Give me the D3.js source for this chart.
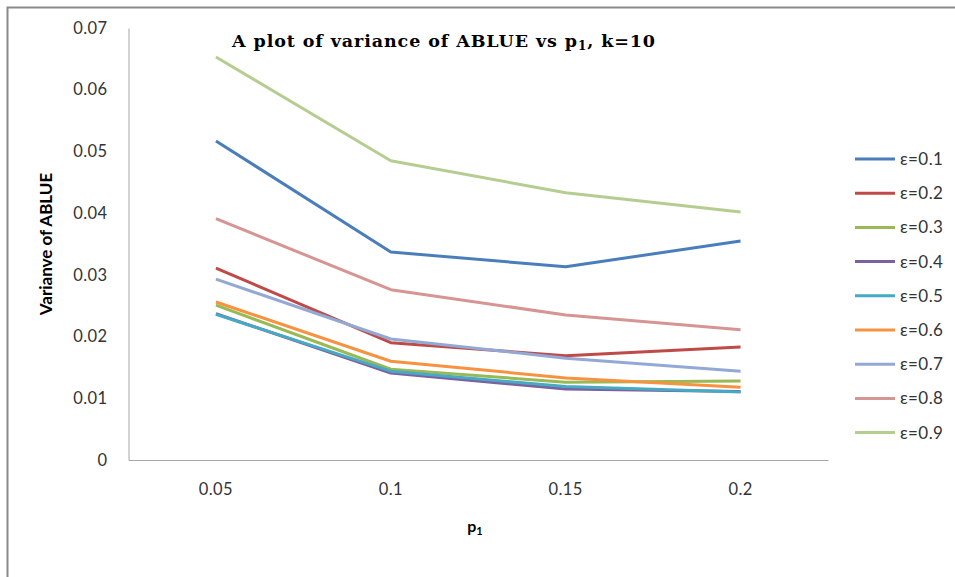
<!DOCTYPE html>
<html>
<head>
<meta charset="utf-8">
<script src="https://cdn.jsdelivr.net/npm/d3@7"></script>
<style>
  html, body { margin: 0; padding: 0; background: #fff; }
  svg { display: block; }
</style>
</head>
<body>
<svg id="chart" width="955" height="577"></svg>
<script>
// p1 categories along the x axis
const categories = ["0.05", "0.1", "0.15", "0.2"];
// y axis tick values
const yTicks = [0, 0.01, 0.02, 0.03, 0.04, 0.05, 0.06, 0.07];
// series names (epsilon)
const seriesNames = ["ε=0.1", "ε=0.2", "ε=0.3", "ε=0.4", "ε=0.5", "ε=0.6", "ε=0.7", "ε=0.8", "ε=0.9"];
// variance of ABLUE per series, one value per p1 category
const eps01 = [0.0517, 0.0337, 0.0313, 0.0355];
const eps02 = [0.0311, 0.0190, 0.0169, 0.0183];
const eps03 = [0.0251, 0.0147, 0.0126, 0.0128];
const eps04 = [0.0237, 0.0141, 0.0115, 0.0111];
const eps05 = [0.0236, 0.0144, 0.0119, 0.0110];
const eps06 = [0.0256, 0.0160, 0.0133, 0.0118];
const eps07 = [0.0293, 0.0196, 0.0165, 0.0144];
const eps08 = [0.0391, 0.0276, 0.0235, 0.0211];
const eps09 = [0.0653, 0.0485, 0.0433, 0.0402];
const seriesValues = [eps01, eps02, eps03, eps04, eps05, eps06, eps07, eps08, eps09];
const seriesColors = ["#4a7ebb", "#be4b48", "#98b954", "#7d60a0", "#46aac5",
                      "#f69240", "#92a9d6", "#d69593", "#b6cd91"];

const svg = d3.select("#chart");
const labelFont = "Lato, 'Open Sans', sans-serif";

// outer frame (top and left edges)
svg.append("path")
  .attr("d", "M7.5,577 V7.5 H955")
  .attr("fill", "none")
  .attr("stroke", "#8a8a8a")
  .attr("stroke-width", 2);

const plot = { left: 128.5, right: 828, top: 28, bottom: 460 };

const x = d3.scaleBand().domain(categories).range([plot.left, plot.right]);
const y = d3.scaleLinear().domain([0, 0.07]).range([plot.bottom, plot.top]);
const cx = c => x(c) + x.bandwidth() / 2;

// y axis
const yAxis = svg.append("g")
  .attr("transform", `translate(${plot.left},0)`)
  .call(d3.axisLeft(y).tickValues(yTicks).tickSize(0).tickPadding(21)
    .tickFormat(d => d === 0 ? "0" : d3.format(".2f")(d)));
yAxis.select(".domain").attr("stroke", "#a6a6a6").attr("stroke-width", 1);
yAxis.selectAll("text")
  .attr("font-family", labelFont).attr("font-size", 16.5)
  .attr("letter-spacing", 0.4).attr("fill", "#333");

// x axis
const xAxis = svg.append("g")
  .attr("transform", `translate(0,${plot.bottom})`)
  .call(d3.axisBottom(x).tickSize(0).tickPadding(23));
xAxis.select(".domain").attr("stroke", "#a6a6a6").attr("stroke-width", 1.2);
xAxis.selectAll("text")
  .attr("font-family", labelFont).attr("font-size", 16.5)
  .attr("letter-spacing", 0.4).attr("fill", "#333");

// lines
const line = d3.line()
  .x((d, i) => cx(categories[i]))
  .y(d => y(d));

svg.append("g").selectAll("path")
  .data(seriesValues)
  .join("path")
  .attr("d", d => line(d))
  .attr("fill", "none")
  .attr("stroke", (d, i) => seriesColors[i])
  .attr("stroke-width", 3)
  .attr("stroke-linejoin", "round");

// title
const title = svg.append("text")
  .attr("x", 444).attr("y", 47)
  .attr("text-anchor", "middle")
  .attr("font-family", "'DejaVu Serif', serif")
  .attr("font-weight", "bold")
  .attr("font-size", 17.5)
  .attr("letter-spacing", 0.9)
  .attr("fill", "#000");
title.append("tspan").text("A plot of variance of ABLUE vs p");
title.append("tspan").attr("font-size", 12).attr("dy", 3).text("1");
title.append("tspan").attr("dy", -3).text(", k=10");

// y axis title
svg.append("text")
  .attr("transform", `translate(52,${(plot.top + plot.bottom) / 2}) rotate(-90)`)
  .attr("text-anchor", "middle")
  .attr("font-family", labelFont)
  .attr("font-weight", "bold")
  .attr("font-size", 17)
  .attr("fill", "#000")
  .text("Varianve of ABLUE");

// x axis title
const xt = svg.append("text")
  .attr("x", 475).attr("y", 532)
  .attr("text-anchor", "middle")
  .attr("font-family", labelFont)
  .attr("font-weight", "bold")
  .attr("font-size", 16)
  .attr("fill", "#000");
xt.append("tspan").text("p");
xt.append("tspan").attr("font-size", 11).attr("dy", 3).text("1");

// legend
const legend = svg.append("g");
const rows = legend.selectAll("g")
  .data(seriesNames)
  .join("g")
  .attr("transform", (d, i) => `translate(855,${159 + i * 34.2})`);
rows.append("line")
  .attr("x1", 0).attr("x2", 40)
  .attr("stroke", (d, i) => seriesColors[i])
  .attr("stroke-width", 3);
rows.append("text")
  .attr("x", 45).attr("dy", "0.35em")
  .attr("font-family", labelFont)
  .attr("font-size", 17)
  .attr("letter-spacing", 0.4)
  .attr("fill", "#333")
  .text(d => d);
</script>
</body>
</html>
